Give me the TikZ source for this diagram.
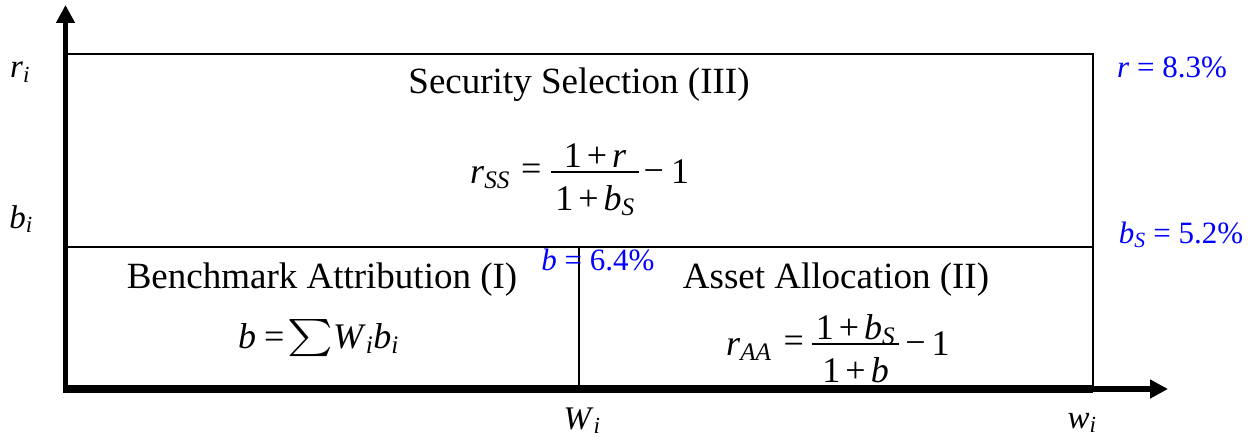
\RequirePackage{fix-cm}
\documentclass[tikz,border=0pt]{standalone}
\usepackage{amsmath}
\usepackage{graphicx}
\usepackage{fontspec}
\setmainfont{Liberation Serif}
\usetikzlibrary{arrows.meta}
% let the large operators scale freely
\DeclareFontShape{OMX}{cmex}{m}{n}{<-> cmex10}{}
% italic letters taken from the text font
\newcommand{\vi}[1]{\textit{#1}}
\newcommand{\eq}{\raisebox{2.5pt}{=}}
\newcommand{\mn}{\raisebox{1pt}{\char"2212}}
\newcommand{\bigsum}{\raisebox{0.5pt}{\scalebox{1.2}[1.03]{$\sum$}}}
% a fraction with its bar 11pt above the baseline
\newbox\fnumbox \newbox\fdenbox \newdimen\fwid
\newcommand{\ffrac}[2]{%
  \setbox\fnumbox=\hbox{#1}\setbox\fdenbox=\hbox{#2}%
  \fwid=\wd\fnumbox \ifdim\wd\fdenbox>\fwid \fwid=\wd\fdenbox\fi
  \advance\fwid by 8pt
  \hbox to \fwid{%
    \rlap{\raisebox{10.2pt}{\rule{\fwid}{1.6pt}}}%
    \rlap{\hbox to \fwid{\hss\raisebox{15.5pt}{\box\fnumbox}\hss}}%
    \hbox to \fwid{\hss\raisebox{-27pt}{\box\fdenbox}\hss}}}
\tikzset{
  axis/.style={line width=5.5pt, -{Triangle[length=18pt,width=18pt]}},
  frame/.style={line width=2.5pt},
  region/.style={anchor=base, inner sep=0pt, font=\fontsize{37}{40}\selectfont},
  formula/.style={anchor=base west, inner sep=0pt, font=\fontsize{36}{40}\selectfont},
  axlabel/.style={anchor=base, inner sep=0pt, font=\fontsize{33}{36}\selectfont},
  value/.style={anchor=base, inner sep=0pt, text=blue, font=\fontsize{31}{34}\selectfont}
}
\begin{document}
\begin{tikzpicture}[x=1pt, y=-1pt]
\useasboundingbox (0,0) rectangle (1258,441);
% corner points of the return regions
\coordinate (O) at (65.5,389);
\coordinate (ytop) at (65.5,5);
\coordinate (xend) at (1168,389);
\coordinate (tl) at (65.5,54);
\coordinate (tr) at (1093,54);
\coordinate (br) at (1093,389);
\coordinate (ml) at (65.5,247);
\coordinate (mr) at (1093,247);
\coordinate (mt) at (579,247);
\coordinate (mb) at (579,389);
% region borders
\draw[frame] (tl) -- (tr) -- (br);
\draw[frame] (ml) -- (mr);
\draw[frame] (mt) -- (mb);
% region titles
\node[region] (t3) at (579,94) {Security Selection (III)};
\node[region] (t1) at (322,288) {Benchmark Attribution (I)};
\node[region] (t2) at (836,288) {Asset Allocation (II)};
% formulas
\node[formula] (f3) at (470,183) {\vi{r}$_{\vi{SS}}$\hspace{11pt}\eq\hspace{10pt}\ffrac{1\hspace{5pt}+\hspace{5pt}\vi{r}}{1\hspace{5pt}+\hspace{5pt}\vi{b}$_{\vi{S}}$}\hspace{5pt}\mn\hspace{7pt}1};
\node[formula] (f1) at (238,348) {\vi{b}\hspace{8pt}=\hspace{3pt}\bigsum\hspace{0pt}\vi{W}$_{\vi{i}}$\vi{b}$_{\vi{i}}$};
\node[formula] (f2) at (726,355) {\vi{r}$_{\vi{AA}}$\hspace{12pt}\eq\hspace{8pt}\ffrac{1\hspace{5pt}+\hspace{5pt}\vi{b}$_{\vi{S}}$}{1\hspace{5pt}+\hspace{5pt}\vi{b}}\hspace{6pt}\mn\hspace{6pt}1};
% axes, drawn over the denominators
\draw[line width=8pt] (63,389) -- (br);
\draw[axis] (63,389) -- (xend);
\draw[axis] (65.5,392) -- (ytop);
% axis labels
\node[axlabel] (ri) at (20,78) {\vi{r}$_{\vi{i}}$};
\node[axlabel] (bi) at (21,228) {\vi{b}$_{\vi{i}}$};
\node[axlabel] (Wi) at (582,429) {\vi{W}$_{\vi{i}}$};
\node[axlabel] (wi) at (1082,428) {\vi{w}$_{\vi{i}}$};
% returns
\node[value] (rv) at (1172,78) {\vi{r} = 8.3\%};
\node[value] (bsv) at (1181,243) {\vi{b}$_{\vi{S}}$ = 5.2\%};
\node[value] (bv) at (598,270) {\vi{b} = 6.4\%};
\end{tikzpicture}
\end{document}
